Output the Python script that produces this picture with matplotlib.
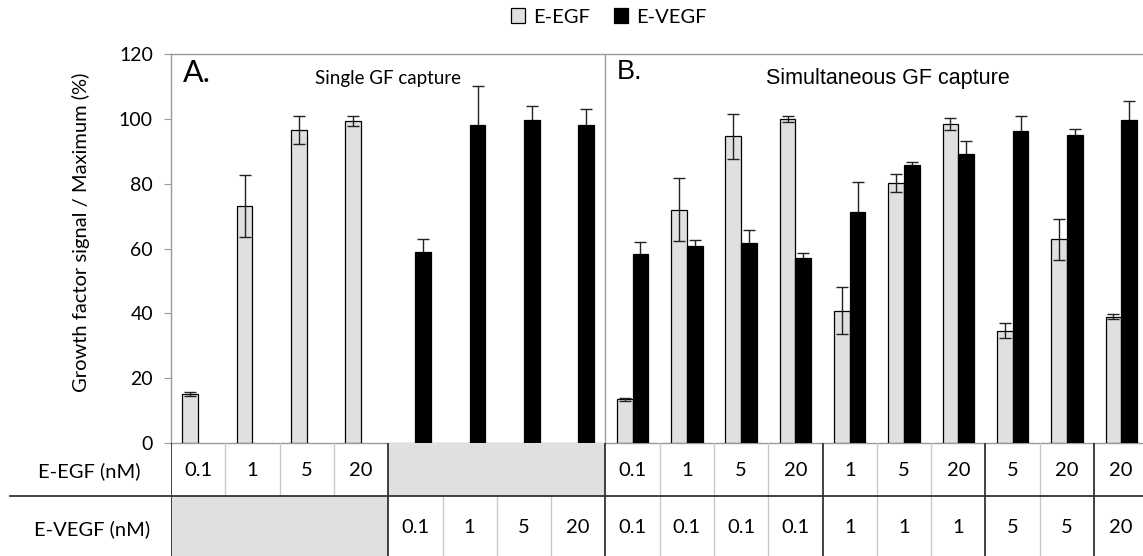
import numpy as np
import matplotlib.pyplot as plt
from matplotlib.lines import Line2D
from matplotlib.patches import Rectangle

plt.rcParams['font.family'] = ['Lato', 'DejaVu Sans']

# concentrations shown in the table under each column (nM), "" = not added
egf_nm = ["0.1", "1", "5", "20", "", "", "", "",
          "0.1", "1", "5", "20", "1", "5", "20", "5", "20", "20"]
vegf_nm = ["", "", "", "", "0.1", "1", "5", "20",
           "0.1", "0.1", "0.1", "0.1", "1", "1", "1", "5", "5", "20"]

# normalised signal (% of maximum) and error
egf_signal = [15.1, 73.0, 96.5, 99.3, np.nan, np.nan, np.nan, np.nan,
              13.5, 72.0, 94.6, 99.9, 40.8, 80.2, 98.4, 34.6, 62.9, 39.0]
egf_err = [0.5, 9.6, 4.3, 1.5, 0, 0, 0, 0,
           0.5, 9.7, 7.0, 0.9, 7.2, 2.9, 1.9, 2.3, 6.3, 0.8]
vegf_signal = [np.nan, np.nan, np.nan, np.nan, 58.9, 98.1, 99.6, 98.1,
               58.4, 60.8, 61.8, 57.0, 71.4, 85.8, 89.1, 96.3, 94.9, 99.6]
vegf_err = [0, 0, 0, 0, 4.1, 12.1, 4.4, 4.8,
            3.6, 1.7, 4.0, 1.7, 9.1, 1.0, 4.0, 4.5, 2.1, 6.0]

panel_titles = ["Single GF capture", "Simultaneous GF capture"]
group_breaks = [3.5, 7.5, 11.5, 14.5, 16.5]

W, H = 1143, 556
fig = plt.figure(figsize=(W / 100, H / 100), dpi=100)

left_px, top_px, bottom_px = 171, 54, 443
cell_px = 54.3
n = len(egf_nm)
ax_w = n * cell_px / W
ax = fig.add_axes([left_px / W, 1 - bottom_px / H, ax_w, (bottom_px - top_px) / H])

x = np.arange(n)
bw = 0.29
light = '#e0e0e0'
grid_gray = '#9a9a9a'
fs = 14.5

b1 = ax.bar(x - bw / 2, egf_signal, bw, color=light, edgecolor='black', linewidth=0.9,
            label='E-EGF', zorder=3)
b2 = ax.bar(x + bw / 2, vegf_signal, bw, color='black', edgecolor='black', linewidth=0.9,
            label='E-VEGF', zorder=3)
ax.errorbar(x - bw / 2, egf_signal, yerr=egf_err, fmt='none', ecolor='#222222',
            elinewidth=1.0, capsize=4, capthick=1.0, zorder=4)
ax.errorbar(x + bw / 2, vegf_signal, yerr=vegf_err, fmt='none', ecolor='#222222',
            elinewidth=1.0, capsize=4, capthick=1.0, zorder=2)

ax.set_xlim(-0.5, n - 0.5)
ax.set_ylim(0, 120)
ax.set_yticks(range(0, 121, 20))
ax.set_xticks([])
ax.tick_params(axis='y', direction='out', length=5, color=grid_gray, labelsize=14, pad=8)
for s in ['left', 'top', 'bottom']:
    ax.spines[s].set_color(grid_gray)
    ax.spines[s].set_linewidth(1.0)
ax.spines['right'].set_visible(False)
ax.axvline(7.5, color=grid_gray, lw=1.0)
ax.set_ylabel('Growth factor signal / Maximum (%)', fontsize=fs)
ax.yaxis.set_label_coords(-0.083, 0.541)

# panel letters and titles
ax.text(-0.28, 114, 'A.', fontsize=22, va='center', ha='left')
ax.text(3.5, 112.5, panel_titles[0], fontsize=13.5, va='center', ha='center')
ax.text(7.7, 114.5, 'B.', fontsize=19.5, va='center', ha='left',
        family='Liberation Sans')
ax.text(12.7, 112.5, panel_titles[1], fontsize=15.5, va='center', ha='center',
        family='Liberation Sans')

fig.legend(handles=[b1, b2], loc='center', bbox_to_anchor=(609 / W, 1 - 17 / H),
           ncol=2, frameon=False, fontsize=fs, handlelength=0.7, handleheight=0.7,
           handletextpad=0.4, columnspacing=1.2, borderpad=0)

# concentration table below the bars
tab = fig.add_axes([left_px / W, 0, ax_w, (H - bottom_px) / H], sharex=ax)
tab.set_ylim(1, 0)
tab.axis('off')
split = 53 / (H - bottom_px)
rows = [(egf_nm, 0, split), (vegf_nm, split, 1)]
for labels, y0, y1 in rows:
    # shade each run of empty cells as one block
    i = 0
    while i < n:
        if labels[i] == "":
            j = i
            while j < n and labels[j] == "":
                j += 1
            tab.add_patch(Rectangle((i - 0.5, y0), j - i, y1 - y0, color=light, lw=0, zorder=1))
            i = j
        else:
            tab.text(i, (y0 + y1) / 2 + 0.01, labels[i], ha='center', va='center', fontsize=fs)
            i += 1
    for k in range(1, n):
        if k - 0.5 in group_breaks:
            continue
        if labels[k] != "" and labels[k - 1] != "":
            tab.plot([k - 0.5, k - 0.5], [y0, y1], color='#c8c8c8', lw=1.0, zorder=2)
for xb in [-0.5] + group_breaks:
    tab.plot([xb, xb], [0, 1], color='#333333', lw=1.3, zorder=3)

fig.add_artist(Line2D([10 / W, 1], [1 - 496 / H, 1 - 496 / H], color='#333333', lw=1.3))
fig.text(89 / W, 1 - 471 / H, 'E-EGF (nM)', ha='center', va='center', fontsize=fs)
fig.text(92 / W, 1 - 529 / H, 'E-VEGF (nM)', ha='center', va='center', fontsize=fs)

fig.savefig('out.png', dpi=100)
